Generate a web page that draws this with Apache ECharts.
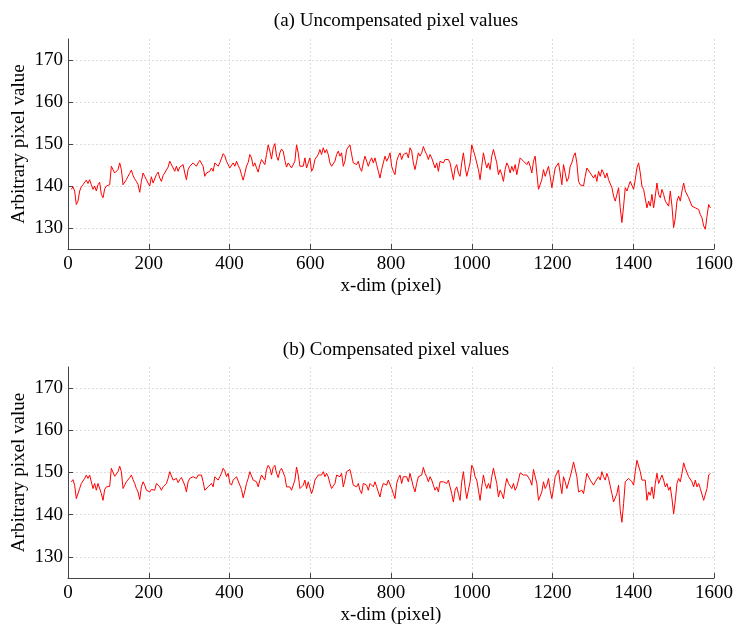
<!DOCTYPE html>
<html>
<head>
<meta charset="utf-8">
<script src="https://cdn.jsdelivr.net/npm/echarts@6/dist/echarts.min.js"></script>
<style>
html,body{margin:0;padding:0;background:#fff;}
#chart{width:735px;height:627px;}
</style>
</head>
<body>
<div id="chart"></div>
<script>
// x-dim sampling of the traces (pixel index)
const firstSample = 8.2;
const sampleStep = 4.1325;

const titles = ['(a) Uncompensated pixel values', '(b) Compensated pixel values'];
const xTicks = [0, 200, 400, 600, 800, 1000, 1200, 1400, 1600];
const yTicks = [130, 140, 150, 160, 170];

const uncompensated = [
139.2,139.8,138.8,135.6,136.4,138.8,139.8,140.3,140.9,141.4,140.6,141.5,140.3,139.2,140.0,138.8,140.3,140.9,138.0,137.2,
139.3,140.0,139.6,140.3,144.7,144.7,143.1,143.1,143.9,145.5,143.9,140.3,140.6,141.5,142.3,143.0,143.8,142.5,141.7,141.1,
140.3,138.5,141.1,143.1,142.3,141.5,140.7,140.0,142.2,140.7,140.3,142.7,143.3,141.9,141.1,142.5,143.1,142.7,144.5,145.9,
145.9,144.3,143.5,144.7,143.5,144.5,144.9,145.1,143.1,141.5,143.9,144.7,144.9,145.5,145.1,144.7,145.5,146.1,146.1,144.7,
142.3,143.1,143.5,143.5,144.3,143.5,145.5,145.6,144.7,145.5,145.9,147.7,147.2,145.9,146.3,144.3,143.9,145.5,144.7,145.9,
144.9,144.1,142.7,141.4,143.0,144.7,145.6,147.5,146.7,144.7,145.5,144.3,143.3,145.1,146.3,145.9,145.1,147.5,149.8,148.3,
146.4,149.1,150.1,147.1,146.1,147.9,148.8,148.3,146.1,144.5,145.5,
145.1,144.3,143.9,145.9,149.8,147.9,144.7,144.3,144.7,146.7,144.3,145.5,146.7,143.5,144.3,146.3,146.7,147.5,148.7,147.5,
149.1,147.9,148.7,147.5,145.5,144.7,144.3,145.9,147.5,148.3,147.1,147.9,144.7,145.9,148.7,149.1,149.8,147.5,145.5,145.9,
145.1,145.9,144.3,143.5,145.5,147.1,145.9,144.7,145.9,146.7,145.5,146.7,145.1,143.5,141.9,143.9,145.5,147.1,145.9,146.7,
147.9,144.7,143.5,142.7,145.9,147.1,147.9,146.3,147.5,147.1,147.9,146.7,149.1,148.3,145.5,143.9,145.9,147.9,147.1,147.9,
149.4,148.3,147.5,146.3,147.5,146.7,145.5,144.3,145.5,143.5,145.9,146.3,145.5,146.3,145.9,146.3,145.5,143.5,141.5,144.3,
145.1,143.1,142.3,145.5,147.9,144.7,142.3,143.9,145.5,149.8,149.4,147.1,146.7,143.9,141.5,144.7,147.9,145.9,144.3,145.5,
143.9,147.1,148.7,149.1,145.5,142.7,143.9,142.7,141.1,143.9,145.5,144.7,
143.1,144.7,143.5,145.1,142.7,144.7,146.7,146.3,145.9,145.5,145.1,145.9,144.7,143.1,145.9,147.1,143.1,139.2,139.6,141.5,
143.9,142.3,142.7,144.7,142.3,139.6,141.9,144.3,143.9,145.5,143.1,140.3,145.1,143.1,141.1,141.9,144.7,145.5,147.1,147.9,
145.5,141.1,140.3,140.7,140.0,142.3,144.3,143.9,143.1,143.5,141.9,142.7,141.1,143.5,142.3,143.9,143.1,141.9,143.1,141.5,
141.9,139.6,137.6,136.4,138.0,139.6,134.8,131.3,135.2,139.6,138.8,140.0,141.1,140.7,139.2,141.5,144.3,145.5,143.1,140.0,
139.2,138.8,134.8,136.4,135.2,138.0,134.8,137.6,140.7,138.0,137.2,139.2,138.0,136.4,136.8,135.2,138.8,135.2,130.1,132.4,
136.4,137.6,136.4,138.8,140.7,138.8,138.8,137.2,136.8,135.2,135.6,134.8,135.2,134.4,133.2,132.4,130.5,129.7,132.8,135.6,
134.8
];

const compensated = [
147.8,148.3,147.0,143.8,144.2,146.2,147.4,147.8,148.6,149.4,148.6,149.4,147.8,146.2,147.4,145.8,147.4,147.8,145.0,143.4,
146.0,146.6,146.2,146.7,151.0,150.7,149.1,149.0,150.2,151.5,150.2,146.2,147.0,147.8,148.2,148.8,149.4,148.3,147.4,146.2,
145.4,143.6,146.6,147.8,147.0,145.8,145.8,145.4,146.0,146.0,145.8,147.4,147.6,146.6,145.8,146.6,147.0,147.4,148.6,150.2,
150.2,148.2,147.8,148.6,147.6,148.3,148.8,149.0,147.0,145.4,147.8,148.6,148.8,149.0,148.8,148.6,149.4,149.8,149.4,147.8,
145.8,146.2,146.6,147.0,147.4,146.6,149.0,149.1,148.2,149.0,149.8,151.0,150.4,149.0,149.8,147.5,147.0,148.2,147.8,149.0,
148.0,147.0,146.0,144.0,145.6,147.4,148.6,150.2,149.8,148.2,148.6,147.8,146.6,148.2,149.4,149.4,148.2,150.7,151.7,151.0,
149.4,151.2,151.7,149.8,148.8,150.4,151.0,150.6,149.0,146.6,147.0,
146.6,145.8,145.4,148.2,151.3,149.4,146.2,145.8,147.0,148.2,146.2,147.8,148.2,145.0,146.2,148.2,148.6,149.4,149.8,149.4,
150.2,149.0,149.8,149.0,147.4,146.2,145.8,147.4,149.4,149.8,149.0,149.8,146.6,148.2,150.2,150.6,150.7,149.0,147.0,147.4,
146.6,147.4,145.8,145.0,147.4,147.8,147.0,145.8,147.4,147.8,146.6,147.8,146.6,145.4,144.2,146.2,147.4,147.8,147.0,148.2,
148.6,146.2,145.0,143.8,147.4,148.6,149.4,147.4,149.0,148.6,149.0,147.8,149.8,149.4,146.6,145.4,147.4,149.0,148.6,149.4,
151.2,149.8,149.0,147.8,149.0,148.2,147.0,145.8,146.6,145.4,147.8,148.2,147.8,148.2,147.4,148.2,146.6,145.0,143.0,145.8,
146.6,145.0,143.4,147.8,150.2,146.6,143.8,145.8,147.8,151.7,151.0,149.0,148.2,145.8,143.4,146.6,149.4,147.4,146.2,147.4,
146.2,149.0,151.0,151.3,147.4,144.2,145.8,145.0,143.8,146.6,148.6,147.4,
147.4,146.2,147.4,145.8,146.6,148.2,149.9,149.8,149.4,149.0,149.4,149.8,148.2,147.0,150.7,151.0,147.4,143.4,143.0,145.4,
147.8,146.2,147.0,148.6,145.8,143.8,146.2,149.0,148.6,150.6,147.4,145.0,149.0,147.8,146.2,146.6,149.0,150.6,152.5,152.9,
149.0,145.4,145.4,145.8,145.0,147.4,149.8,149.4,148.2,148.6,147.0,147.8,147.4,149.0,148.2,150.2,149.0,148.2,149.8,148.6,
149.0,145.0,143.0,142.6,145.0,147.0,141.0,138.2,142.6,147.8,147.4,148.6,149.0,147.8,147.0,150.2,152.9,153.3,150.2,148.2,
147.8,148.2,143.4,145.4,144.6,146.6,143.8,147.4,149.8,147.4,147.8,149.4,148.2,146.6,147.4,145.8,146.6,143.8,140.2,143.4,
147.4,148.6,147.8,149.8,152.3,151.0,150.6,149.0,148.6,147.8,146.6,148.2,146.6,147.4,146.2,146.2,143.4,143.0,146.2,149.4,
149.8
];

function toPoints(values) {
  return values.map((v, i) => [firstSample + i * sampleStep, v]);
}

const serif = 'Liberation Serif';
const fs = 19;
const gridLeft = 68, gridRight = 21;
const grids = [
  { left: gridLeft, right: gridRight, top: 39, height: 210, containLabel: false, outerBoundsMode: 'none' },
  { left: gridLeft, right: gridRight, top: 367, height: 211, containLabel: false, outerBoundsMode: 'none' }
];

function xAxisFor(gi) {
  return {
    type: 'value', gridIndex: gi, min: 0, max: 1600, interval: 200,
    name: 'x-dim (pixel)', nameLocation: 'middle', nameGap: 28, nameMoveOverlap: false,
    nameTextStyle: { fontFamily: serif, fontSize: fs, color: '#000' },
    axisLine: { show: true, lineStyle: { color: '#444', width: 1 } },
    axisTick: { show: true, inside: true, length: 5, lineStyle: { color: '#444' }, customValues: xTicks },
    axisLabel: { fontFamily: serif, fontSize: fs, color: '#000', margin: 6, customValues: xTicks,
      formatter: (v) => String(v) },
    splitLine: { show: true, lineStyle: { color: '#dcdcdc', type: [2, 2], width: 1 } }
  };
}
function yAxisFor(gi) {
  return {
    type: 'value', gridIndex: gi, min: 125, max: 175,
    name: 'Arbitrary pixel value', nameLocation: 'middle', nameGap: 39, nameMoveOverlap: false,
    nameTextStyle: { fontFamily: serif, fontSize: fs, color: '#000' },
    axisLine: { show: true, lineStyle: { color: '#444', width: 1 } },
    axisTick: { show: true, inside: true, length: 5, lineStyle: { color: '#444' }, customValues: yTicks },
    axisLabel: { fontFamily: serif, fontSize: fs, color: '#000', margin: 5, customValues: yTicks,
      formatter: (v) => String(v) },
    splitLine: { show: true, lineStyle: { color: '#dcdcdc', type: [2, 2], width: 1 } }
  };
}

const chart = echarts.init(document.getElementById('chart'), null, { renderer: 'canvas' });
chart.setOption({
  backgroundColor: '#fff',
  animation: false,
  title: [
    { text: titles[0], left: 391, top: 7, textAlign: 'center',
      textStyle: { fontFamily: serif, fontSize: fs, fontWeight: 'normal', color: '#000' } },
    { text: titles[1], left: 391, top: 336, textAlign: 'center',
      textStyle: { fontFamily: serif, fontSize: fs, fontWeight: 'normal', color: '#000' } }
  ],
  grid: grids,
  xAxis: [xAxisFor(0), xAxisFor(1)],
  yAxis: [yAxisFor(0), yAxisFor(1)],
  series: [
    { type: 'line', xAxisIndex: 0, yAxisIndex: 0, data: toPoints(uncompensated),
      showSymbol: false, symbol: 'none', lineStyle: { color: '#ff0000', width: 1 }, itemStyle: { color: '#ff0000' } },
    { type: 'line', xAxisIndex: 1, yAxisIndex: 1, data: toPoints(compensated),
      showSymbol: false, symbol: 'none', lineStyle: { color: '#ff0000', width: 1 }, itemStyle: { color: '#ff0000' } }
  ]
});
</script>
</body>
</html>
